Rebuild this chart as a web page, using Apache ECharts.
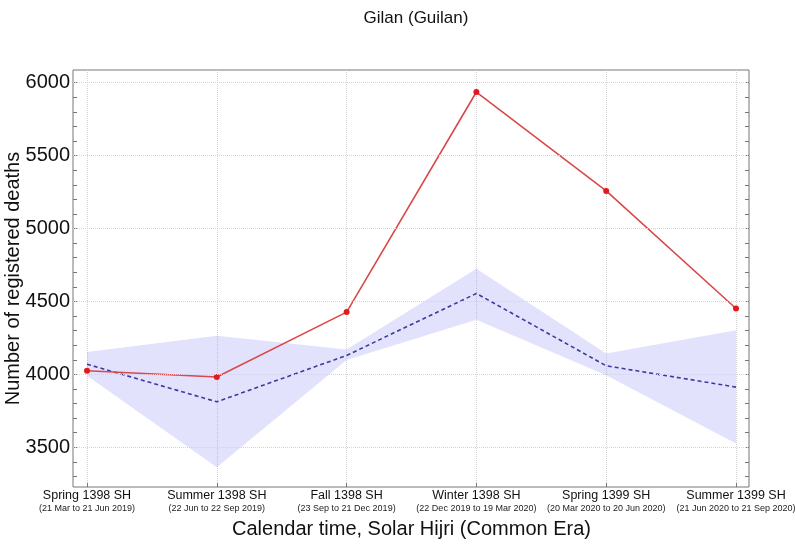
<!DOCTYPE html>
<html><head><meta charset="utf-8">
<script src="https://cdn.jsdelivr.net/npm/echarts@6/dist/echarts.min.js"></script>
<style>html,body{margin:0;padding:0;background:#fff}#c{width:795px;height:547px}</style>
</head><body><div id="c"></div>
<script>
const seasons = ["Spring 1398 SH","Summer 1398 SH","Fall 1398 SH","Winter 1398 SH","Spring 1399 SH","Summer 1399 SH"];
const dateRanges = ["(21 Mar to 21 Jun 2019)","(22 Jun to 22 Sep 2019)","(23 Sep to 21 Dec 2019)","(22 Dec 2019 to 19 Mar 2020)","(20 Mar 2020 to 20 Jun 2020)","(21 Jun 2020 to 21 Sep 2020)"];
const observed = [4025, 3982, 4427, 5936, 5258, 4452];
const expected = [4070, 3812, 4130, 4555, 4059, 3913];
const bandLower = [3990, 3363, 4098, 4374, 3995, 3527];
const bandUpper = [4153, 4265, 4170, 4724, 4144, 4302];
const yLabels = [3500, 4000, 4500, 5000, 5500, 6000];
const yTicks = [3300,3400,3500,3600,3700,3800,3900,4000,4100,4200,4300,4400,4500,4600,4700,4800,4900,5000,5100,5200,5300,5400,5500,5600,5700,5800,5900,6000];

const Y_MIN = 3228, Y_MAX = 6087;
const bandDiff = bandUpper.map((v, i) => v - bandLower[i]);
const font = '"Liberation Sans", Arial, sans-serif';
const gridLineStyle = {color: '#d4d4d4', type: 'dotted', width: 1};

const chart = echarts.init(document.getElementById('c'), null, {renderer: 'canvas'});
chart.setOption({
  animation: false,
  backgroundColor: '#fff',
  title: {
    text: 'Gilan (Guilan)', left: 411, top: 5, textAlign: 'center',
    textStyle: {fontFamily: font, fontSize: 17, fontWeight: 'normal', color: '#111'}
  },
  grid: [
    {left: 73, right: 46, top: 70, bottom: 60, outerBoundsMode: 'none', containLabel: false,
     show: true, borderColor: '#777', borderWidth: 1, backgroundColor: 'transparent'},
    {left: 87, right: 59, top: 70, bottom: 60, outerBoundsMode: 'none', containLabel: false}
  ],
  xAxis: [
    {gridIndex: 0, type: 'value', show: false, min: 0, max: 1},
    {
      gridIndex: 1, type: 'category', data: seasons, boundaryGap: false,
      axisLine: {show: false},
      axisTick: {show: true, inside: true, length: 4, lineStyle: {color: '#777'}},
      splitLine: {show: true, lineStyle: gridLineStyle},
      axisLabel: {
        interval: 0, margin: 2, color: '#111', fontFamily: font,
        formatter: (v, i) => '{a|' + v + '}\n{b|' + dateRanges[i] + '}',
        rich: {
          a: {fontFamily: font, fontSize: 12.5, color: '#111', lineHeight: 14},
          b: {fontFamily: font, fontSize: 9, color: '#222', lineHeight: 12}
        }
      },
      name: 'Calendar time, Solar Hijri (Common Era)', nameLocation: 'middle', nameGap: 32,
      nameMoveOverlap: false,
      nameTextStyle: {fontFamily: font, fontSize: 20, color: '#111'}
    }
  ],
  yAxis: [
    {
      gridIndex: 0, type: 'value', min: Y_MIN, max: Y_MAX, position: 'left',
      axisLine: {show: false},
      axisTick: {show: true, inside: true, length: 4, customValues: yTicks, lineStyle: {color: '#777'}},
      axisLabel: {customValues: yLabels, formatter: v => String(v), fontFamily: font, fontSize: 20, color: '#111', margin: 3},
      splitLine: {show: false},
      name: 'Number of registered deaths', nameLocation: 'middle', nameGap: 50,
      nameMoveOverlap: false,
      nameTextStyle: {fontFamily: font, fontSize: 20, color: '#111'}
    },
    {
      gridIndex: 0, type: 'value', min: Y_MIN, max: Y_MAX, position: 'right',
      axisLine: {show: false},
      axisTick: {show: true, inside: true, length: 4, customValues: yTicks, lineStyle: {color: '#777'}},
      axisLabel: {show: false},
      splitLine: {show: false}
    },
    {
      gridIndex: 1, type: 'value', min: Y_MIN, max: Y_MAX, show: false, splitLine: {show: false}
    }
  ],
  series: [
    {
      type: 'line', xAxisIndex: 0, yAxisIndex: 0, data: [], silent: true,
      markLine: {
        silent: true, symbol: 'none', label: {show: false},
        lineStyle: gridLineStyle,
        data: yLabels.map(v => ({yAxis: v}))
      }
    },
    {
      type: 'line', xAxisIndex: 1, yAxisIndex: 2, data: bandLower, stack: 'band',
      symbol: 'none', lineStyle: {opacity: 0}, areaStyle: {opacity: 0}, silent: true
    },
    {
      type: 'line', xAxisIndex: 1, yAxisIndex: 2, data: bandDiff, stack: 'band',
      symbol: 'none', lineStyle: {opacity: 0}, areaStyle: {color: 'rgba(120,120,245,0.30)'}, silent: true
    },
    {
      type: 'line', xAxisIndex: 1, yAxisIndex: 2, data: expected, symbol: 'none',
      lineStyle: {color: '#3b3b9e', width: 1.6, type: [4, 3]}
    },
    {
      type: 'line', xAxisIndex: 1, yAxisIndex: 2, data: observed,
      symbol: 'circle', symbolSize: 6,
      itemStyle: {color: '#e31a1c'},
      lineStyle: {color: '#d9494a', width: 1.6}
    }
  ]
});
</script></body></html>
